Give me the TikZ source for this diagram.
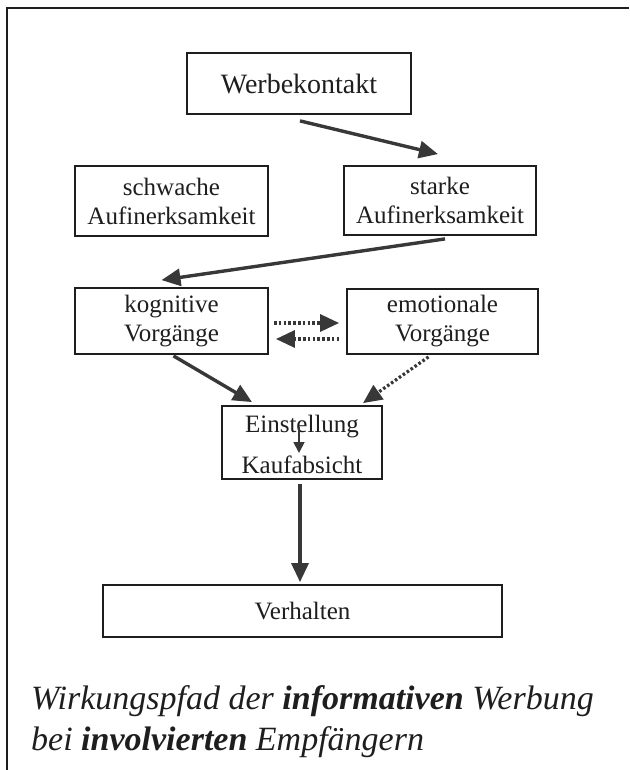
\documentclass[tikz,border=0pt]{standalone}
\usepackage{fontspec}
\setmainfont{Liberation Serif}
\usetikzlibrary{arrows.meta}

\definecolor{ink}{HTML}{1E1E1E}
\definecolor{arrowgray}{HTML}{383838}

\tikzset{
  box/.style={draw=ink, line width=1.8pt, inner sep=0pt, align=center,
    text=ink, font=\fontsize{25}{29}\selectfont},
  flow/.style={draw=arrowgray, line width=3.4pt,
    -{Triangle[length=19pt,width=17pt,fill=arrowgray]}},
  dotflow/.style={draw=arrowgray, line width=3.2pt,
    dash pattern=on 2.6pt off 2.2pt,
    -{Triangle[length=19pt,width=17pt,fill=arrowgray,sep=0pt]}},
  smallflow/.style={draw=arrowgray, line width=1.8pt,
    -{Triangle[length=11pt,width=11pt,fill=arrowgray]}},
  frameline/.style={draw=ink, line width=2pt},
  caption/.style={anchor=base west, inner sep=0pt, text=ink,
    font=\fontsize{34}{40}\selectfont\itshape}
}

\begin{document}
\begin{tikzpicture}[x=1pt,y=-1pt]
  \useasboundingbox (0,0) rectangle (629,770);
  \fill[white] (0,0) rectangle (629,770);

  % page frame: top and left edge
  \draw[frameline] (629,8) -- (7,8) -- (7,770);

  % boxes
  \node[box, minimum width=224pt, minimum height=61pt,
        font=\fontsize{28}{32}\selectfont] (wk) at (299,83.5) {Werbekontakt};
  \node[box, minimum width=193pt, minimum height=70pt] (sw) at (171.5,201)
        {schwache\\Aufinerksamkeit};
  \node[box, minimum width=192pt, minimum height=69pt] (st) at (440,200.5)
        {starke\\Aufinerksamkeit};
  \node[box, minimum width=193pt, minimum height=66pt] (kog) at (171.5,321)
        {kognitive\\Vorgänge};
  \node[box, minimum width=191pt, minimum height=65pt] (em) at (442.5,321.5)
        {emotionale\\Vorgänge};
  \node[box, minimum width=160pt, minimum height=73pt] (ek) at (302,442.5) {};
  \node[anchor=base, inner sep=0pt, text=ink, font=\fontsize{25}{29}\selectfont]
        (einst) at (302,432) {Einstellung};
  \node[anchor=base, inner sep=0pt, text=ink, font=\fontsize{25}{29}\selectfont]
        (kauf) at (302,473) {Kaufabsicht};
  \node[box, minimum width=399pt, minimum height=52pt] (vh) at (302.5,611)
        {Verhalten};

  % connectors
  \draw[flow] ([xshift=1pt,yshift=-6pt]wk.south) -- ([xshift=-2pt,yshift=11pt]st.north);
  \draw[flow] ([xshift=5pt,yshift=-3pt]st.south) -- ([xshift=-10pt,yshift=7pt]kog.north);
  \draw[dotflow] ([xshift=5pt,yshift=-2pt]kog.east) -- ([xshift=-7pt,yshift=-1.5pt]em.west);
  \draw[dotflow] ([xshift=-7pt,yshift=-17.5pt]em.west) -- ([xshift=7pt,yshift=-18pt]kog.east);
  \draw[flow] ([xshift=2pt,yshift=-1pt]kog.south) -- ([xshift=-50pt,yshift=3pt]ek.north);
  \draw[dotflow] ([xshift=-14pt,yshift=-2pt]em.south) -- ([xshift=61pt,yshift=2pt]ek.north);
  \draw[smallflow] ([xshift=-3pt,yshift=5pt]einst.base) -- ([xshift=-3pt,yshift=20pt]kauf.base);
  \draw[flow] ([xshift=-2pt,yshift=-4pt]ek.south) -- ([xshift=-2.5pt,yshift=2pt]vh.north);

  % caption
  \node[caption] (cap1) at (31,709)
    {Wirkungspfad der \textbf{informativen} Werbung};
  \node[caption] (cap2) at (31,750)
    {bei \textbf{involvierten} Empfängern};
\end{tikzpicture}
\end{document}
